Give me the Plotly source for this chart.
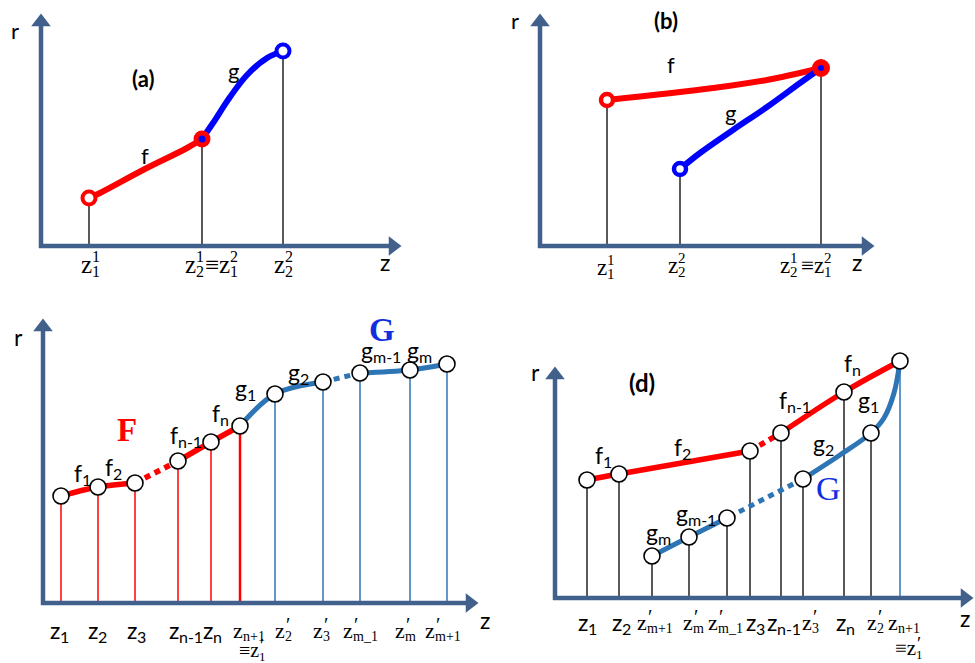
import plotly.graph_objects as go

# ---------------- data (panel-local units: z to the right, r upward) ----------------
# panel (a)
a_f_z = [48, 59, 102, 146, 161]
a_f_r = [48, 53, 76, 98, 107]
a_g_z = [161, 172, 189, 206, 226, 242]
a_g_r = [107, 123, 149, 171, 188, 195]
a_axis = (359, 231)

# panel (b)
b_f_z = [67, 173, 227, 281]
b_f_r = [146, 158, 166, 178]
b_g_z = [140, 160, 193, 227, 260, 281]
b_g_r = [77, 93, 116, 139, 163, 178]
b_axis = (333, 231)

# panel (c)
c_F_z = [18, 55, 92, 135, 168, 197]
c_F_r = [107, 116, 120, 142, 161, 177]
c_F_tick = ["1", "2", "3", "n-1", "n"]
c_G_z = [197, 232, 280, 317, 367, 404]
c_G_r = [177, 209, 221, 230, 233, 239]
c_G_tick = ["2", "3", "m_1", "m", "m+1"]
c_axis = (434, 283)

# panel (d)
d_F_z = [32, 64, 195, 226, 289, 345]
d_F_r = [118, 124, 147, 165, 206, 237]
d_F_tick = ["1", "2", "3", "n-1", "n"]
d_G_z = [345, 316, 248, 172, 134, 97]
d_G_r = [237, 165, 119, 80, 61, 42]
d_G_tick = ["2", "3", "m_1", "m", "m+1"]
d_Gc_z = [345, 339, 329, 316, 285, 248]
d_Gc_r = [237, 205, 180, 165, 143, 119]
d_axis = (417, 230)

# curve-name labels: (letter, subscript)
c_labels = [("f", "1"), ("f", "2"), ("f", "n-1"), ("f", "n"), ("g", "1"), ("g", "2"), ("g", "m-1"), ("g", "m")]

# ---------------- styles ----------------
W, H = 975, 663
AXC = "#41618C"
RED = "#FF0000"
BLUE = "#0000FF"
BLUE2 = "#2E75B6"
GBLUE = "#1030E0"
SANS = "Lato, 'Open Sans', sans-serif"
SERIF = "'Liberation Serif', 'DejaVu Serif', serif"

# subplot boxes in page pixels and the pixel of each origin
PANELS = [
    ("x", "y", (0, 0, 487, 290), (41, 246)),
    ("x2", "y2", (487, 0, 975, 290), (540, 246)),
    ("x3", "y3", (0, 295, 520, 663), (43, 603)),
    ("x4", "y4", (520, 295, 975, 663), (555, 598)),
]

fig = go.Figure()
anns = []


def line(p, z, r, color, width, dash=None, shape="linear"):
    xr, yr = PANELS[p][0], PANELS[p][1]
    fig.add_trace(go.Scatter(x=z, y=r, mode="lines", xaxis=xr, yaxis=yr,
                             line=dict(color=color, width=width, dash=dash, shape=shape, smoothing=1.0),
                             hoverinfo="skip", showlegend=False))


def marks(p, z, r, size, fill, lcolor, lwidth):
    xr, yr = PANELS[p][0], PANELS[p][1]
    fig.add_trace(go.Scatter(x=z, y=r, mode="markers", xaxis=xr, yaxis=yr,
                             marker=dict(size=size, color=fill, line=dict(color=lcolor, width=lwidth)),
                             hoverinfo="skip", showlegend=False))


def verticals(p, z, r, color, width):
    for zz, rr in zip(z, r):
        line(p, [zz, zz], [0, rr], color, width)


def axes(p, tip):
    xr, yr = PANELS[p][0], PANELS[p][1]
    tz, tr = tip
    line(p, [0, 0], [-2, tr - 10], AXC, 4.5)
    line(p, [-2, tz - 10], [0, 0], AXC, 4.5)
    fig.add_trace(go.Scatter(x=[0, tz - 7], y=[tr - 7, 0], mode="markers", xaxis=xr, yaxis=yr,
                             marker=dict(symbol=["triangle-up", "triangle-right"], size=17, color=AXC,
                                         line=dict(width=0)),
                             hoverinfo="skip", showlegend=False))


def text(p, x, y, t, size, font=SANS, color="black", xanchor="center", xshift=0, yshift=0):
    anns.append(dict(xref=PANELS[p][0], yref=PANELS[p][1], x=x, y=y, text=t, showarrow=False,
                     xanchor=xanchor, yanchor="middle", xshift=xshift, yshift=yshift, borderpad=0,
                     font=dict(size=size, family=font, color=color)))


def stacked(p, x, y, base, sub=None, sup=None, size=20, font=SERIF, dx=0, color="black",
            prime=False, ratio=0.64):
    text(p, x, y, base, size, font, color, xanchor="right", xshift=dx + 1)
    s = round(size * ratio)
    if sub is not None:
        text(p, x, y, sub, s, font, color, xanchor="left", xshift=dx - 1, yshift=-0.30 * size)
    if sup is not None:
        if prime:
            text(p, x, y, sup, round(size * 0.9), font, color, xanchor="left", xshift=dx, yshift=0.22 * size)
        else:
            text(p, x, y, sup, s, font, color, xanchor="left", xshift=dx - 1, yshift=0.30 * size)


# ================= panel (a) =================
verticals(0, [a_f_z[0], a_f_z[-1], a_g_z[-1]], [a_f_r[0], a_f_r[-1], a_g_r[-1]], "#222222", 1.5)
axes(0, a_axis)
line(0, a_f_z, a_f_r, RED, 6, shape="spline")
line(0, a_g_z, a_g_r, BLUE, 6, shape="spline")
marks(0, [a_f_z[0]], [a_f_r[0]], 13, "white", RED, 4)
marks(0, [a_g_z[-1]], [a_g_r[-1]], 13, "white", BLUE, 4)
marks(0, [a_f_z[-1]], [a_f_r[-1]], 12, BLUE, RED, 5)
text(0, -26, 216, "r", 22)
text(0, 102, 168, "<b>(a)</b>", 22)
text(0, 192, 176, "g", 22)
text(0, 104, 91, "f", 22)
text(0, 344, -16, "z", 23)
stacked(0, a_f_z[0], -18, "z", "1", "1", 25, dx=3)
stacked(0, a_f_z[-1], -18, "z", "2", "1", 25, dx=-6)
stacked(0, a_f_z[-1], -18, "≡z", "1", "2", 25, dx=28)
stacked(0, a_g_z[-1], -18, "z", "2", "2", 25, dx=2)

# ================= panel (b) =================
verticals(1, [b_f_z[0], b_g_z[0], b_f_z[-1]], [b_f_r[0], b_g_r[0], b_f_r[-1]], "#222222", 1.5)
axes(1, b_axis)
line(1, b_f_z, b_f_r, RED, 6, shape="spline")
line(1, b_g_z, b_g_r, BLUE, 6, shape="spline")
marks(1, [b_f_z[0]], [b_f_r[0]], 12, "white", RED, 4.5)
marks(1, [b_g_z[0]], [b_g_r[0]], 12, "white", BLUE, 4.5)
marks(1, [b_f_z[-1]], [b_f_r[-1]], 12, BLUE, RED, 6)
text(1, -25, 226, "r", 22)
text(1, 126, 226, "<b>(b)</b>", 22)
text(1, 131, 182, "f", 22)
text(1, 190, 134, "g", 22)
text(1, 317, -16, "z", 23)
stacked(1, b_f_z[0], -21, "z", "1", "1", 23, dx=0)
stacked(1, b_g_z[0], -19, "z", "2", "2", 23, dx=-2)
stacked(1, b_f_z[-1], -19, "z", "2", "1", 23, dx=-31)
stacked(1, b_f_z[-1], -19, "≡z", "1", "2", 23, dx=3)

# ================= panel (c) =================
verticals(2, c_F_z[:-1], c_F_r[:-1], RED, 1.5)
verticals(2, c_G_z[1:], c_G_r[1:], BLUE2, 1.5)
verticals(2, [c_F_z[-1]], [c_F_r[-1]], RED, 2.5)
axes(2, c_axis)
line(2, c_F_z[:3], c_F_r[:3], RED, 5.5, shape="spline")
line(2, c_F_z[2:4], c_F_r[2:4], RED, 5.5, dash="6px,5px")
line(2, c_F_z[3:], c_F_r[3:], RED, 5.5, shape="spline")
line(2, c_G_z[:3], c_G_r[:3], BLUE2, 5, shape="spline")
line(2, c_G_z[2:4], c_G_r[2:4], BLUE2, 5, dash="6px,5px")
line(2, c_G_z[3:], c_G_r[3:], BLUE2, 5, shape="spline")
marks(2, c_F_z + c_G_z[1:], c_F_r + c_G_r[1:], 16, "white", "black", 1.6)
text(2, -25, 266, "r", 23)
text(2, 442, -17, "z", 23)
text(2, 84, 173, "<b>F</b>", 33, SERIF, RED)
text(2, 339, 273, "<b>G</b>", 33, SERIF, GBLUE)
c_lab_pos = [(39, 130), (70, 136), (135, 168), (177, 190), (204, 215), (257, 231), (330, 253), (376, 253)]
for (b, s), (x, y) in zip(c_labels, c_lab_pos):
    stacked(2, x, y, b, s, None, 23, SANS, ratio=0.7)
c_dx = [-1, 0, 2, 1, 2]
for zz, t, dx in zip(c_F_z[:-1], c_F_tick, c_dx):
    stacked(2, zz, -27, "z", t, None, 23, SANS, dx=dx, ratio=0.68)
stacked(2, c_F_z[-1], -27, "z", "n+1", None, 22, SERIF, dx=3)
stacked(2, c_F_z[-1], -47, "≡z", "1", "′", 20, SERIF, dx=19, prime=True)
g_dx = [10, 0, -7, -5, -12]
for zz, t, dx in zip(c_G_z[1:], c_G_tick, g_dx):
    stacked(2, zz, -27, "z", t, "′", 22, SERIF, dx=dx, prime=True)

# ================= panel (d) =================
verticals(3, d_F_z[:-1], d_F_r[:-1], "#222222", 1.5)
verticals(3, d_G_z[1:], d_G_r[1:], "#222222", 1.5)
verticals(3, [d_F_z[-1]], [d_F_r[-1]], BLUE2, 1.5)
axes(3, d_axis)
line(3, d_F_z[:3], d_F_r[:3], RED, 5.5, shape="spline")
line(3, d_F_z[2:4], d_F_r[2:4], RED, 5.5, dash="6px,5px")
line(3, d_F_z[3:], d_F_r[3:], RED, 5.5, shape="spline")
line(3, d_Gc_z, d_Gc_r, BLUE2, 5, shape="spline")
line(3, d_G_z[2:4], d_G_r[2:4], BLUE2, 5, dash="6px,5px")
line(3, d_G_z[3:], d_G_r[3:], BLUE2, 5, shape="spline")
marks(3, d_F_z + d_G_z[1:], d_F_r + d_G_r[1:], 16, "white", "black", 1.6)
text(3, -20, 226, "r", 23)
text(3, 87, 216, "<b>(d)</b>", 24)
text(3, 410, -20, "z", 23)
text(3, 273, 110, "G", 34, SERIF, GBLUE)
d_lab_pos = [(48, 143), (127, 151), (232, 198), (297, 235), (315, 198), (270, 155), (133, 85), (103, 66)]
for (b, s), (x, y) in zip(c_labels, d_lab_pos):
    stacked(3, x, y, b, s, None, 23, SANS, ratio=0.7)
dF_dx = [1, 3, 6, -4, 2]
for zz, t, dx in zip(d_F_z[:-1], d_F_tick, dF_dx):
    stacked(3, zz, -24, "z", t, None, 23, SANS, dx=dx, ratio=0.68)
stacked(3, d_F_z[-1], -24, "z", "n+1", None, 22, SERIF, dx=-2)
stacked(3, d_F_z[-1], -50, "≡z", "1", "′", 21, SERIF, dx=16, prime=True)
dG_dx = [6, 9, -9, 4, -5]
for zz, t, dx in zip(d_G_z[1:], d_G_tick, dG_dx):
    stacked(3, zz, -24, "z", t, "′", 22, SERIF, dx=dx, prime=True)

# ---------------- layout ----------------
layout = dict(width=W, height=H, margin=dict(l=0, r=0, t=0, b=0), paper_bgcolor="white",
              plot_bgcolor="white", showlegend=False, annotations=anns)
for i, (xr, yr, box, org) in enumerate(PANELS):
    x0, y0, x1, y1 = box
    ox, oy = org
    sx = "xaxis" if i == 0 else f"xaxis{i + 1}"
    sy = "yaxis" if i == 0 else f"yaxis{i + 1}"
    layout[sx] = dict(domain=[x0 / W, x1 / W], range=[x0 - ox, x1 - ox], visible=False,
                      anchor=yr, fixedrange=True)
    layout[sy] = dict(domain=[1 - y1 / H, 1 - y0 / H], range=[oy - y1, oy - y0], visible=False,
                      anchor=xr, fixedrange=True)
fig.update_layout(**layout)
fig.write_html("out.html")
